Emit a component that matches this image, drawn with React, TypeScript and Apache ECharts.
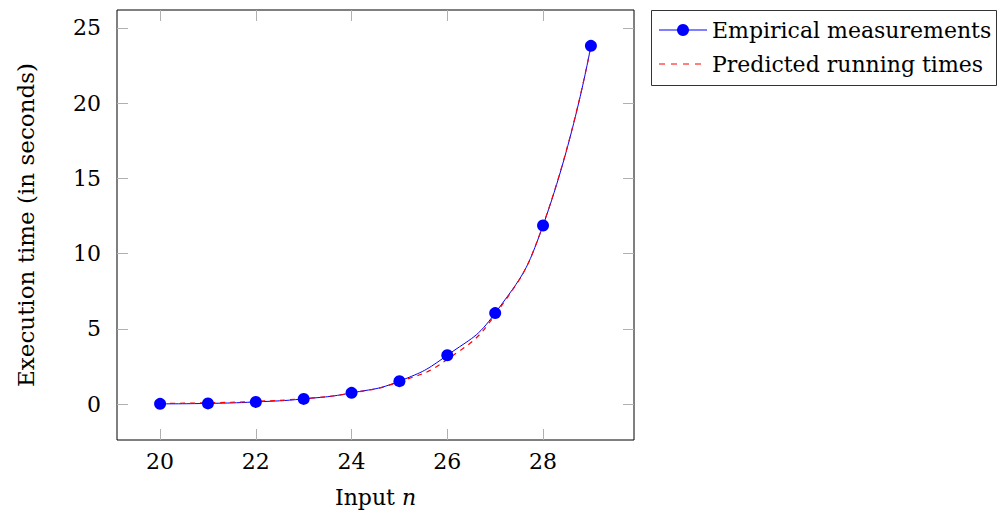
import React, { useEffect, useRef } from "react";
import * as echarts from "echarts";

const inputN = [20, 21, 22, 23, 24, 25, 26, 27, 28, 29];
const measured = [0.02, 0.05, 0.15, 0.35, 0.75, 1.53, 3.25, 6.05, 11.87, 23.8];
const predicted = [0.05, 0.09, 0.19, 0.37, 0.74, 1.49, 2.97, 5.95, 11.9, 23.8];
const xTicks = [20, 22, 24, 26, 28];
const yTicks = [0, 5, 10, 15, 20, 25];
const seriesNames = ["Empirical measurements", "Predicted running times"];

const FONT = "'DejaVu Serif', 'Liberation Serif', serif";

export default function App() {
  const ref = useRef<HTMLDivElement>(null);
  useEffect(() => {
    if (!ref.current) return;
    const chart = echarts.init(ref.current, null, { renderer: "svg" });
    const tickStyle = { show: true, inside: true, length: 11, lineStyle: { color: "#b0b0b0", width: 1 } };
    const xBase = { type: "value", min: 19.1, max: 29.9, splitLine: { show: false }, axisLine: { show: false, onZero: false } };
    const yBase = { type: "value", min: -2.38, max: 26.18, splitLine: { show: false }, axisLine: { show: false, onZero: false } };
    const textStyle = { fontFamily: FONT, fontSize: 22, fill: "#000" };
    const measuredData = inputN.map((n, i) => [n, measured[i]]);
    chart.setOption({
      animation: false,
      grid: {
        left: 117, right: 364, top: 10, bottom: 70,
        outerBoundsMode: "none", containLabel: false,
        show: true, borderColor: "#000", borderWidth: 1, backgroundColor: "transparent",
      },
      graphic: [
        { type: "rect", shape: { x: 651.5, y: 10.5, width: 345, height: 75 }, style: { fill: "#fff", stroke: "#333", lineWidth: 1 } },
        { type: "line", shape: { x1: 659, y1: 30, x2: 707, y2: 30 }, style: { stroke: "#0000ff", lineWidth: 1 } },
        { type: "circle", shape: { cx: 683, cy: 30, r: 6 }, style: { fill: "#0000ff" } },
        { type: "line", shape: { x1: 659, y1: 64, x2: 707, y2: 64 }, style: { stroke: "#ff0000", lineWidth: 1, lineDash: [6, 6] } },
        { type: "text", x: 712, y: 30, style: { ...textStyle, text: seriesNames[0], verticalAlign: "middle" } },
        { type: "text", x: 712, y: 64, style: { ...textStyle, text: seriesNames[1], verticalAlign: "middle" } },
      ],
      xAxis: [
        {
          ...xBase,
          position: "bottom",
          name: "Input {i|n}",
          nameLocation: "middle",
          nameGap: 46,
          nameTextStyle: { fontFamily: FONT, fontSize: 22, color: "#000", rich: { i: { fontFamily: FONT, fontSize: 22, fontStyle: "italic", color: "#000" } } },
          axisTick: { ...tickStyle, customValues: xTicks },
          axisLabel: { customValues: xTicks, fontFamily: FONT, fontSize: 22, color: "#000", margin: 10 },
        },
        {
          ...xBase,
          position: "top",
          axisTick: { ...tickStyle, customValues: xTicks },
          axisLabel: { show: false },
        },
      ],
      yAxis: [
        {
          ...yBase,
          position: "left",
          name: "Execution time (in seconds)",
          nameLocation: "middle",
          nameGap: 80,
          nameTextStyle: { fontFamily: FONT, fontSize: 23, color: "#000" },
          axisTick: { ...tickStyle, customValues: yTicks },
          axisLabel: { customValues: yTicks, fontFamily: FONT, fontSize: 22, color: "#000", margin: 16 },
        },
        {
          ...yBase,
          position: "right",
          axisTick: { ...tickStyle, customValues: yTicks },
          axisLabel: { show: false },
        },
      ],
      series: [
        {
          name: seriesNames[0],
          type: "line",
          smooth: true,
          data: measuredData,
          showSymbol: false,
          symbol: "none",
          lineStyle: { color: "#0000ff", width: 1 },
          z: 2,
        },
        {
          name: seriesNames[1],
          type: "line",
          smooth: true,
          data: inputN.map((n, i) => [n, predicted[i]]),
          symbol: "none",
          lineStyle: { color: "#ff0000", width: 1.2, type: [5, 5] },
          z: 3,
        },
        {
          name: seriesNames[0] + " markers",
          type: "scatter",
          data: measuredData,
          symbol: "circle",
          symbolSize: 12,
          itemStyle: { color: "#0000ff", opacity: 1 },
          z: 4,
        },
      ],
    });
    return () => chart.dispose();
  }, []);
  return <div ref={ref} style={{ width: 998, height: 510, position: "absolute", left: 0, top: 0 }} />;
}
